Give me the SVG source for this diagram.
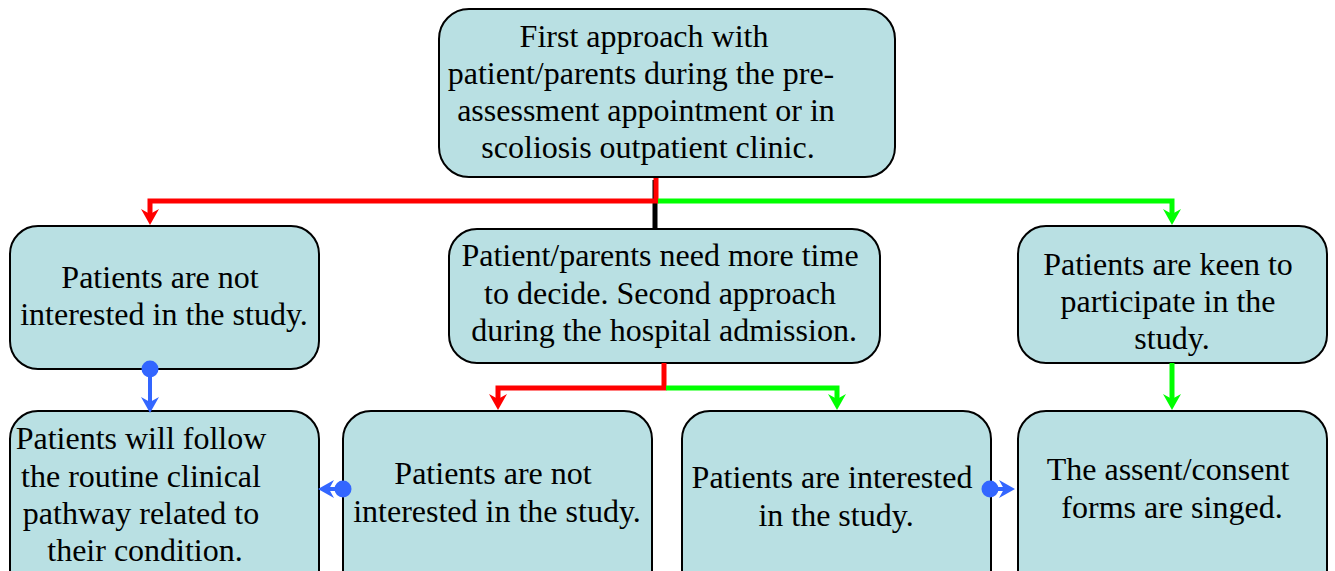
<svg xmlns="http://www.w3.org/2000/svg" width="1335" height="571" viewBox="0 0 1335 571">
  <style>
    .box { fill: #b9e0e3; stroke: #000; stroke-width: 2; }
    .lbl { font-family: 'Liberation Serif', Tinos, 'Times New Roman', 'DejaVu Serif', serif; font-size: 32px; fill: #000; text-anchor: middle; }
    .red { fill: none; stroke: #ff0000; stroke-width: 5; }
    .green { fill: none; stroke: #00ff00; stroke-width: 5; }
    .black { fill: none; stroke: #000; stroke-width: 5; }
    .blue { fill: none; stroke: #3366ff; stroke-width: 4; }
    .dot { fill: #3366ff; }
  </style>
  <defs>
    <marker id="arrRed" viewBox="0 0 16 18" refX="6" refY="9" markerWidth="16" markerHeight="18" markerUnits="userSpaceOnUse" orient="auto">
      <path d="M0,0 L16,9 L0,18 L5,9 Z" fill="#ff0000"/>
    </marker>
    <marker id="arrGreen" viewBox="0 0 16 18" refX="6" refY="9" markerWidth="16" markerHeight="18" markerUnits="userSpaceOnUse" orient="auto">
      <path d="M0,0 L16,9 L0,18 L5,9 Z" fill="#00ff00"/>
    </marker>
    <marker id="arrBlue" viewBox="0 0 16 18" refX="6" refY="9" markerWidth="16" markerHeight="18" markerUnits="userSpaceOnUse" orient="auto">
      <path d="M0,0 L16,9 L0,18 L5,9 Z" fill="#3366ff"/>
    </marker>
  </defs>

  <!-- nodes -->
  <g id="first-approach">
    <rect class="box" x="439" y="9" width="456" height="168" rx="30"/>
    <text class="lbl">
      <tspan x="648" y="47">First approach with</tspan>
      <tspan x="645" y="84">patient/parents during the pre-</tspan>
      <tspan x="650" y="121">assessment appointment or in</tspan>
      <tspan x="648" y="158">scoliosis outpatient clinic.</tspan>
    </text>
  </g>

  <g id="not-interested-1">
    <rect class="box" x="10" y="226" width="309" height="143" rx="28"/>
    <text class="lbl">
      <tspan x="164" y="288">Patients are not</tspan>
      <tspan x="164" y="325">interested in the study.</tspan>
    </text>
  </g>

  <g id="need-more-time">
    <rect class="box" x="449" y="229" width="431" height="134" rx="28"/>
    <text class="lbl">
      <tspan x="664" y="266">Patient/parents need more time</tspan>
      <tspan x="664" y="304">to decide. Second approach</tspan>
      <tspan x="664" y="341">during the hospital admission.</tspan>
    </text>
  </g>

  <g id="keen-to-participate">
    <rect class="box" x="1018" y="226" width="309" height="137" rx="28"/>
    <text class="lbl">
      <tspan x="1172" y="275">Patients are keen to</tspan>
      <tspan x="1172" y="312">participate in the</tspan>
      <tspan x="1172" y="349">study.</tspan>
    </text>
  </g>

  <g id="routine-pathway">
    <rect class="box" x="10" y="411" width="309" height="200" rx="28"/>
    <text class="lbl">
      <tspan x="145" y="449">Patients will follow</tspan>
      <tspan x="145" y="487">the routine clinical</tspan>
      <tspan x="145" y="524">pathway related to</tspan>
      <tspan x="145" y="561">their condition.</tspan>
    </text>
  </g>

  <g id="not-interested-2">
    <rect class="box" x="343" y="411" width="309" height="200" rx="28"/>
    <text class="lbl">
      <tspan x="497" y="484">Patients are not</tspan>
      <tspan x="497" y="522">interested in the study.</tspan>
    </text>
  </g>

  <g id="interested">
    <rect class="box" x="682" y="411" width="309" height="200" rx="28"/>
    <text class="lbl">
      <tspan x="836" y="488">Patients are interested</tspan>
      <tspan x="836" y="526">in the study.</tspan>
    </text>
  </g>

  <g id="forms-signed">
    <rect class="box" x="1018" y="411" width="309" height="200" rx="28"/>
    <text class="lbl">
      <tspan x="1172" y="480">The assent/consent</tspan>
      <tspan x="1172" y="518">forms are singed.</tspan>
    </text>
  </g>

  <!-- connectors -->
  <g id="connectors">
    <path class="black" d="M655,180 V228"/>
    <path class="red" d="M656,178 V201 H150 V215" marker-end="url(#arrRed)"/>
    <path class="green" d="M658,201 H1172 V215" marker-end="url(#arrGreen)"/>

    <path class="red" d="M664,363 V388 H498 V400" marker-end="url(#arrRed)"/>
    <path class="green" d="M666,388 H837 V400" marker-end="url(#arrGreen)"/>
    <path class="green" d="M1172,363 V400" marker-end="url(#arrGreen)"/>

    <path class="blue" d="M150,369 V403" marker-end="url(#arrBlue)"/>
    <circle class="dot" cx="150" cy="369" r="8.5"/>
    <path class="blue" d="M343,489 H328" marker-end="url(#arrBlue)"/>
    <circle class="dot" cx="343" cy="489" r="8.5"/>
    <path class="blue" d="M990,489 H1005" marker-end="url(#arrBlue)"/>
    <circle class="dot" cx="990" cy="489" r="8.5"/>
  </g>
</svg>
